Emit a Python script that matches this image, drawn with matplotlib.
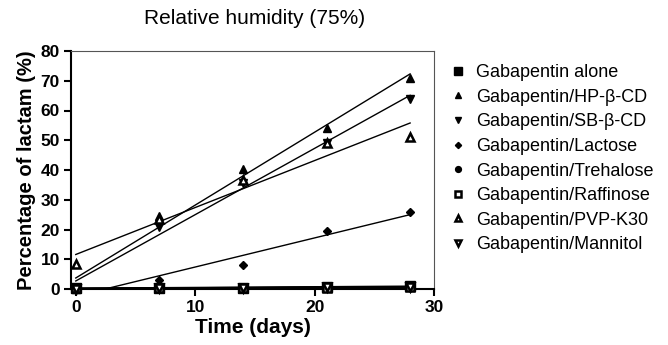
import matplotlib
matplotlib.use("Agg")
import matplotlib.pyplot as plt
import numpy as np

plt.rcParams['font.family'] = ['Liberation Sans', 'DejaVu Sans']

# sampling days
days = [0, 7, 14, 21, 28]

# percentage of lactam
alone = [0.3, 0.5, 0.5, 0.8, 1.0]
hp_cd = [0.0, 24.5, 40.5, 54.0, 71.0]
sb_cd = [0.0, 21.0, 35.5, 49.0, 64.0]
lactose = [0.0, 3.0, 8.0, 19.5, 26.0]
trehalose = [0.2, 0.4, 0.5, 0.6, 0.8]
raffinose = [0.2, 0.3, 0.4, 0.5, 0.6]
pvp = [8.5, 23.5, 36.5, 49.0, 51.0]
mannitol = [0.1, 0.3, 0.4, 0.6, 0.7]

labels = ['Gabapentin alone', 'Gabapentin/HP-\u03b2-CD', 'Gabapentin/SB-\u03b2-CD',
          'Gabapentin/Lactose', 'Gabapentin/Trehalose', 'Gabapentin/Raffinose',
          'Gabapentin/PVP-K30', 'Gabapentin/Mannitol']
series = [alone, hp_cd, sb_cd, lactose, trehalose, raffinose, pvp, mannitol]
markers = ['s', '^', 'v', 'D', 'o', 's', '^', 'v']
filled = [True, True, True, True, True, False, False, False]
sizes = [7.5, 6, 6, 4.5, 6, 6, 5.5, 5.5]

fig = plt.figure(figsize=(6.68, 3.45), dpi=100)
ax = fig.add_axes([71 / 668, 1 - 289 / 345, (434 - 71) / 668, (289 - 51) / 345])

x = np.array(days, dtype=float)
xfit = np.array([0, 28], dtype=float)
handles = []
for y, m, f, s, lab in zip(series, markers, filled, sizes, labels):
    # linear regression line through each series
    k, b = np.polyfit(x, np.array(y), 1)
    ax.plot(xfit, k * xfit + b, color='black', lw=1, zorder=2)
    h, = ax.plot(days, y, linestyle='none', marker=m, markersize=s,
                 markerfacecolor='black' if f else 'white',
                 markeredgecolor='black', markeredgewidth=1.8 if not f else 1,
                 clip_on=False, zorder=3, label=lab)
    handles.append(h)

ax.set_xlim(-0.4, 30)
ax.set_ylim(0, 80)
ax.set_xticks([0, 10, 20, 30])
ax.set_yticks(range(0, 81, 10))

for side in ['left', 'bottom']:
    ax.spines[side].set_linewidth(1.5)
for side in ['top', 'right']:
    ax.spines[side].set_linewidth(0.8)
    ax.spines[side].set_color('#555555')

ax.tick_params(direction='out', length=5, width=1.5, labelsize=12.5, pad=3)
for t in ax.get_xticklabels() + ax.get_yticklabels():
    t.set_fontweight('bold')

ax.set_xlabel('Time (days)', fontsize=15, fontweight='bold', labelpad=2)
ax.set_ylabel('Percentage of lactam (%)', fontsize=14.5, fontweight='bold', labelpad=3)
fig.text(255 / 668, 1 - 18 / 345, 'Relative humidity (75%)', fontsize=15,
         ha='center', va='center')

ax.legend(handles=handles, loc='upper left', bbox_to_anchor=(445 / 668, 1 - 57 / 345),
          bbox_transform=fig.transFigure, frameon=False, fontsize=13,
          markerscale=0.7, handlelength=0.6, handletextpad=0.7,
          labelspacing=0.42, borderaxespad=0)

fig.savefig('out.png', dpi=100)
